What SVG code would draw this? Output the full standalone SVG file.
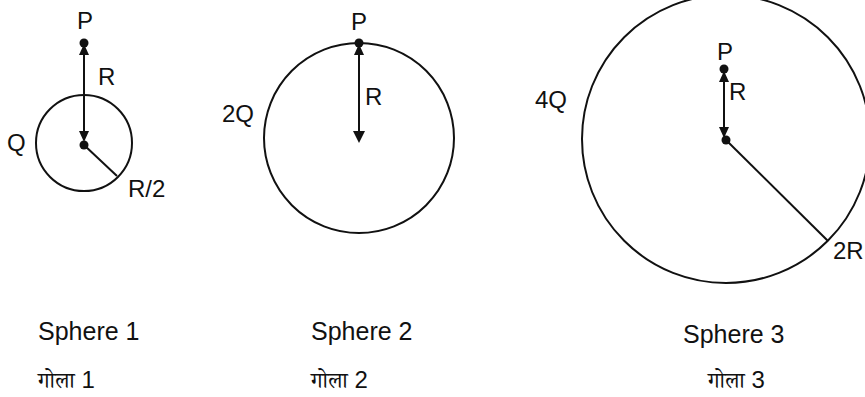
<svg xmlns="http://www.w3.org/2000/svg" width="865" height="397" viewBox="0 0 865 397">
<defs>
<style>
.c{fill:none;stroke:#111;stroke-width:2}
.l{stroke:#111;stroke-width:2;fill:none}
.d{fill:#111}
text{font-family:"Liberation Sans",Arial,sans-serif;font-size:24px;fill:#111}
.s{font-size:25px}
.hi{font-family:"Liberation Serif","Noto Serif Devanagari","Noto Sans Devanagari",serif;font-size:22px}
</style>
</defs>
<rect width="865" height="397" fill="#fff"/>
<g id="sphere1">
<circle class="c" cx="84" cy="143" r="48"/>
<circle class="d" cx="84" cy="43" r="4.5"/>
<circle class="d" cx="84" cy="145" r="4.5"/>
<text x="85" y="29" text-anchor="middle">P</text>
<text x="98" y="85">R</text>
<text x="7" y="151">Q</text>
<text x="128" y="197">R/2</text>
<text class="s" x="38" y="340">Sphere 1</text>
<text x="38" y="388"><tspan class="hi">गोला</tspan> 1</text>
</g>
<g id="sphere2">
<circle class="c" cx="359" cy="138" r="95"/>
<circle class="d" cx="359" cy="43" r="4.5"/>
<text x="359" y="30" text-anchor="middle">P</text>
<text x="365" y="105">R</text>
<text x="222" y="122">2Q</text>
<text class="s" x="311" y="340">Sphere 2</text>
<text x="311" y="388"><tspan class="hi">गोला</tspan> 2</text>
</g>
<g id="sphere3">
<circle class="c" cx="726" cy="139" r="144"/>
<circle class="d" cx="724" cy="69" r="4.5"/>
<circle class="d" cx="726" cy="140" r="4.5"/>
<text x="725" y="60" text-anchor="middle">P</text>
<text x="729" y="100">R</text>
<text x="535" y="108">4Q</text>
<text x="833" y="259">2R</text>
<text class="s" x="683" y="343">Sphere 3</text>
<text x="708" y="388"><tspan class="hi">गोला</tspan> 3</text>
</g>
<g id="connectors">
<path class="l" d="M84,50 L84,136"/>
<path class="d" d="M84,44 L89,55 L79,55 Z"/>
<path class="d" d="M84,142 L89,131 L79,131 Z"/>
<path class="l" d="M84,145 L117,176"/>
<path class="l" d="M359,50 L359,136"/>
<path class="d" d="M359,44 L364,55 L354,55 Z"/>
<path class="d" d="M359,143 L365,131 L353,131 Z"/>
<path class="l" d="M724,76 L724,133"/>
<path class="d" d="M724,71 L729,82 L719,82 Z"/>
<path class="d" d="M724,138 L729,127 L719,127 Z"/>
<path class="l" d="M726,140 L828,241"/>
</g>
</svg>
